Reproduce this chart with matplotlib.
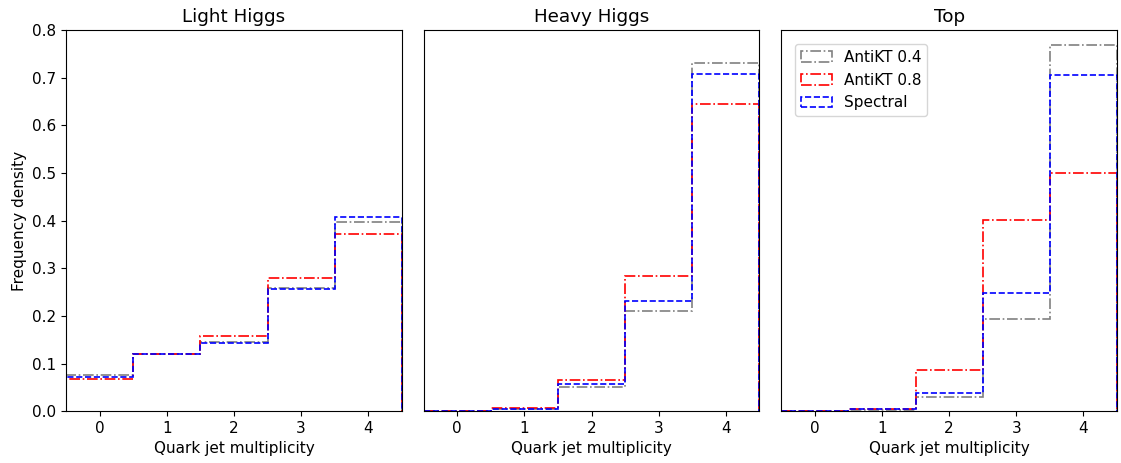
# Standard libs:
import numpy as np
import matplotlib
matplotlib.use("Agg")
import matplotlib.pyplot as plt

# Data:
multiplicity = [0, 1, 2, 3, 4]
titles = ["Light Higgs", "Heavy Higgs", "Top"]

antikt04 = [
    [0.076, 0.120, 0.146, 0.259, 0.397],
    [0.001, 0.005, 0.051, 0.211, 0.731],
    [0.001, 0.003, 0.030, 0.194, 0.768],
]
antikt08 = [
    [0.067, 0.121, 0.157, 0.280, 0.372],
    [0.001, 0.006, 0.065, 0.283, 0.645],
    [0.001, 0.005, 0.086, 0.402, 0.501],
]
spectral = [
    [0.072, 0.119, 0.144, 0.256, 0.408],
    [0.001, 0.005, 0.057, 0.231, 0.707],
    [0.001, 0.004, 0.039, 0.248, 0.706],
]

labels = ["AntiKT 0.4", "AntiKT 0.8", "Spectral"]


def main():
    """Main plotting."""
    plt.rcParams["font.size"] = 11

    fig, axes = plt.subplots(1, 3, figsize=(11.21, 4.63), dpi=100, sharey=True)
    fig.subplots_adjust(left=0.059, right=0.9964, top=0.935, bottom=0.112,
                        wspace=0.065)

    edges = np.arange(-0.5, 5.5, 1.0)
    styles = [("gray", (0, (6.4, 1.6, 1.0, 1.6))),
              ("red", (0, (6.4, 1.6, 1.0, 1.6))),
              ("blue", (0, (3.7, 1.6)))]

    for i, ax in enumerate(axes):
        for series, label, (col, ls) in zip([antikt04, antikt08, spectral],
                                            labels, styles):
            ax.hist(multiplicity, bins=edges, weights=series[i],
                    histtype="step", color=col, linestyle=ls,
                    linewidth=1.2, label=label)
        ax.set_xlim(-0.5, 4.5)
        ax.set_ylim(0, 0.8)
        ax.set_xticks(multiplicity)
        ax.set_title(titles[i], fontsize=13.2)
        ax.set_xlabel("Quark jet multiplicity")
        if i > 0:
            ax.tick_params(axis="y", left=False)

    axes[0].set_ylabel("Frequency density")
    axes[2].legend(loc="upper left", borderaxespad=0.9)

    fig.savefig("out.png", dpi=100)


# Main:
if __name__ == "__main__":
    main()
